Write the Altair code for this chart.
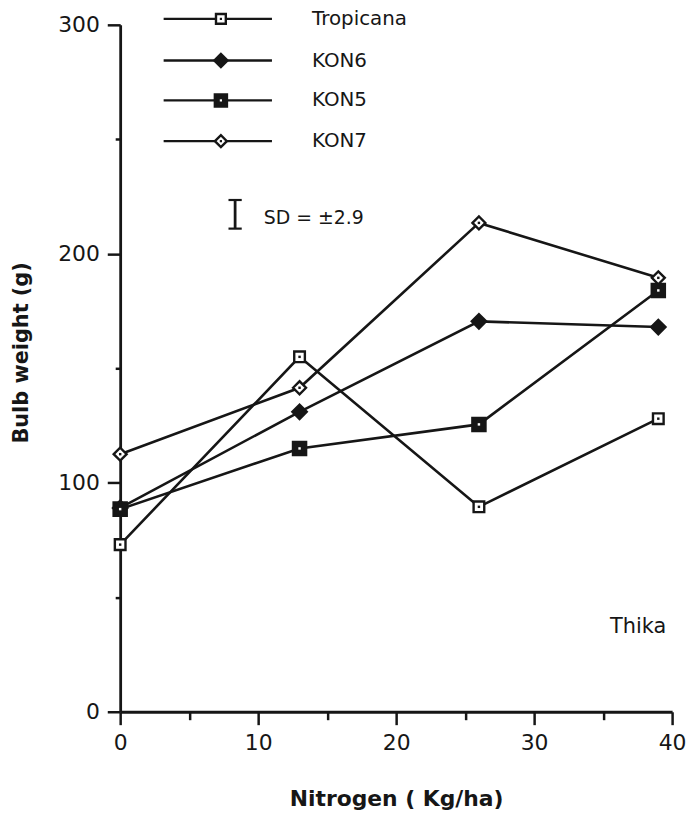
import altair as alt
import pandas as pd

# ---- data ----
nitrogen = [0, 13, 26, 39]
series_names = ["Tropicana", "KON6", "KON5", "KON7"]
tropicana = [73, 155, 89.5, 128]
kon6 = [89, 131, 170.5, 168]
kon5 = [88.5, 115, 125.5, 184]
kon7 = [112.5, 141.5, 213.5, 189.5]

x_ticks = [0, 10, 20, 30, 40]
x_minor = [5, 15, 25, 35]
y_ticks = [0, 100, 200, 300]
y_minor = [50, 150, 250]

x_title = "Nitrogen ( Kg/ha)"
y_title = "Bulb weight (g)"
site_label = "Thika"
sd_label = "SD = \u00b12.9"

values = {"Tropicana": tropicana, "KON6": kon6, "KON5": kon5, "KON7": kon7}
rows = []
for s in series_names:
    for n, v in zip(nitrogen, values[s]):
        rows.append({"series": s, "nitrogen": n, "weight": v})
df = pd.DataFrame(rows)

# ---- styling / layout ----
W, H = 556, 692
INK = "#161616"
FONT = "DejaVu Sans"

xs = alt.Scale(domain=[0, 40], nice=False, zero=False)
ys = alt.Scale(domain=[0, 300], nice=False)

styles = {
    "Tropicana": dict(shape="square", fill="white", size=115, dot=INK),
    "KON6": dict(shape="diamond", fill=INK, size=210, dot=None),
    "KON5": dict(shape="square", fill=INK, size=175, dot="white"),
    "KON7": dict(shape="diamond", fill="white", size=170, dot=INK),
}

common_axis = dict(
    grid=False, tickColor=INK, tickWidth=2.5, domainColor=INK, domainWidth=2.8,
    labelFont=FONT, labelFontSize=22, labelColor=INK, labelFlush=False,
    titleFont=FONT, titleFontWeight="bold", titleColor=INK,
)

x_axis = alt.Axis(values=x_ticks, orient="bottom", title=x_title, format="d",
                  tickSize=13, labelPadding=8, titleY=87, titleBaseline="middle",
                  titleFontSize=22, **common_axis)
y_axis = alt.Axis(values=y_ticks, orient="left", title=y_title, format="d",
                  tickSize=13, labelPadding=8, titleX=-99, titleY=330,
                  titleAngle=270, titleAlign="center", titleBaseline="middle",
                  titleFontSize=21, **common_axis)
x_axis_minor = alt.Axis(values=x_minor, orient="bottom", labels=False, domain=False,
                        tickSize=8, tickWidth=2.5, tickColor=INK, title=None, grid=False)
y_axis_minor = alt.Axis(values=y_minor, orient="left", labels=False, domain=False,
                        tickSize=5, tickWidth=2.5, tickColor=INK, title=None, grid=False)

lines = alt.Chart(df).mark_line(color=INK, strokeWidth=2.6).encode(
    x=alt.X("nitrogen:Q", scale=xs, axis=x_axis),
    y=alt.Y("weight:Q", scale=ys, axis=y_axis),
    detail="series:N",
)

layers = [lines]
first = True
for s in series_names:
    st = styles[s]
    sub = df[df.series == s]
    xa = x_axis_minor if first else None
    ya = y_axis_minor if first else None
    first = False
    pts = alt.Chart(sub).mark_point(
        shape=st["shape"], size=st["size"], fill=st["fill"], stroke=INK,
        strokeWidth=2.4, opacity=1, fillOpacity=1, filled=True,
    ).encode(
        x=alt.X("nitrogen:Q", scale=xs, axis=xa),
        y=alt.Y("weight:Q", scale=ys, axis=ya),
    )
    layers.append(pts)
    if st["dot"]:
        dots = alt.Chart(sub).mark_square(size=6, color=st["dot"], opacity=1).encode(
            x=alt.X("nitrogen:Q", scale=xs, axis=None),
            y=alt.Y("weight:Q", scale=ys, axis=None),
        )
        layers.append(dots)

# ---- legend (drawn inside the plot, top left) ----
leg_rows = [302.6, 284.4, 267.0, 249.2]
leg = pd.DataFrame({"series": series_names, "ly": leg_rows,
                    "x1": 3.15, "x2": 11.0, "xm": 7.3, "xl": 13.9})
layers.append(alt.Chart(leg).mark_rule(color=INK, strokeWidth=2.4).encode(
    x=alt.X("x1:Q", scale=xs, axis=None), x2="x2:Q",
    y=alt.Y("ly:Q", scale=ys, axis=None)))
for s in series_names:
    st = styles[s]
    sub = leg[leg.series == s]
    layers.append(alt.Chart(sub).mark_point(
        shape=st["shape"], size=st["size"] * 0.85, fill=st["fill"], stroke=INK,
        strokeWidth=2.4, opacity=1, fillOpacity=1, filled=True,
    ).encode(x=alt.X("xm:Q", scale=xs, axis=None), y=alt.Y("ly:Q", scale=ys, axis=None)))
    if st["dot"]:
        layers.append(alt.Chart(sub).mark_square(size=5, color=st["dot"], opacity=1).encode(
            x=alt.X("xm:Q", scale=xs, axis=None), y=alt.Y("ly:Q", scale=ys, axis=None)))
layers.append(alt.Chart(leg).mark_text(
    align="left", baseline="middle", font=FONT, fontSize=20, color=INK
).encode(x=alt.X("xl:Q", scale=xs, axis=None), y=alt.Y("ly:Q", scale=ys, axis=None),
         text="series:N"))

# ---- SD bar annotation ----
sd_x = 8.33
sd_df = pd.DataFrame({"x": [sd_x], "y0": [211.0], "y1": [223.5],
                      "cx0": [sd_x - 0.48], "cx1": [sd_x + 0.48],
                      "tx": [10.4], "ty": [215.5], "label": [sd_label]})
layers.append(alt.Chart(sd_df).mark_rule(color=INK, strokeWidth=2.8).encode(
    x=alt.X("x:Q", scale=xs, axis=None), y=alt.Y("y0:Q", scale=ys, axis=None), y2="y1:Q"))
layers.append(alt.Chart(sd_df).mark_rule(color=INK, strokeWidth=2.2).encode(
    x=alt.X("cx0:Q", scale=xs, axis=None), x2="cx1:Q", y=alt.Y("y0:Q", scale=ys, axis=None)))
layers.append(alt.Chart(sd_df).mark_rule(color=INK, strokeWidth=2.2).encode(
    x=alt.X("cx0:Q", scale=xs, axis=None), x2="cx1:Q", y=alt.Y("y1:Q", scale=ys, axis=None)))
layers.append(alt.Chart(sd_df).mark_text(
    align="left", baseline="middle", font=FONT, fontSize=19, color=INK
).encode(x=alt.X("tx:Q", scale=xs, axis=None), y=alt.Y("ty:Q", scale=ys, axis=None),
         text="label:N"))

# ---- site label ----
site_df = pd.DataFrame({"x": [35.5], "y": [37.0], "label": [site_label]})
layers.append(alt.Chart(site_df).mark_text(
    align="left", baseline="middle", font=FONT, fontSize=21, color=INK
).encode(x=alt.X("x:Q", scale=xs, axis=None), y=alt.Y("y:Q", scale=ys, axis=None),
         text="label:N"))

chart = alt.layer(*layers).resolve_axis(x="independent", y="independent").properties(
    width=W, height=H,
    autosize=alt.AutoSizeParams(type="none"),
    padding={"left": 113, "top": 14, "right": 14, "bottom": 96},
    background="white",
).configure_view(stroke=None)

chart.save("out.html", embed_options={"renderer": "svg", "actions": False})
